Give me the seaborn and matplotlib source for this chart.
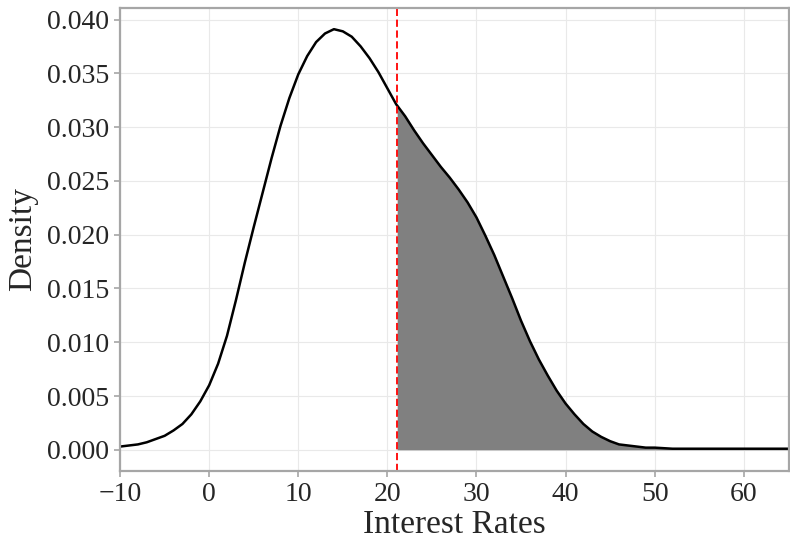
import numpy as np
import pandas as pd
import matplotlib
matplotlib.use("Agg")
import matplotlib.pyplot as plt
import seaborn as sns

# Estimated density of interest rates
rate = [-10, -9, -8, -7, -6, -5, -4, -3, -2, -1, 0, 1, 2, 3, 4, 5, 6, 7, 8,
        9, 10, 11, 12, 13, 14, 15, 16, 17, 18, 19, 20, 21, 21.1, 22, 23, 24,
        25, 26, 27, 28, 29, 30, 31, 32, 33, 34, 35, 36, 37, 38, 39, 40, 41,
        42, 43, 44, 45, 46, 47, 48, 49, 50, 52, 55, 60, 65.1]
density = [0.0003, 0.0004, 0.0005, 0.0007, 0.0010, 0.0013, 0.0018, 0.0024,
           0.0033, 0.0045, 0.0060, 0.0080, 0.0106, 0.0139, 0.0174, 0.0207,
           0.0239, 0.0271, 0.0301, 0.0327, 0.0349, 0.0366, 0.0379, 0.0387,
           0.0391, 0.0389, 0.0384, 0.0375, 0.0364, 0.0351, 0.0336, 0.0321,
           0.0320, 0.0310, 0.0297, 0.0285, 0.0274, 0.0263, 0.0253, 0.0242,
           0.0230, 0.0216, 0.0199, 0.0181, 0.0161, 0.0141, 0.0120, 0.0101,
           0.0084, 0.0069, 0.0055, 0.0043, 0.0033, 0.0024, 0.0017, 0.0012,
           0.0008, 0.0005, 0.0004, 0.0003, 0.0002, 0.0002, 0.0001, 0.0001,
           0.0001, 0.0001]
threshold = 21.1

x_ticks = [-10, 0, 10, 20, 30, 40, 50, 60]
y_ticks = [0.000, 0.005, 0.010, 0.015, 0.020, 0.025, 0.030, 0.035, 0.040]

df = pd.DataFrame({"Interest Rates": rate, "Density": density})

sns.set_style("whitegrid", {
    "grid.color": "#e9e9e9",
    "axes.edgecolor": "#a6a6a6",
    "xtick.bottom": True,
    "ytick.left": True,
})
plt.rcParams["font.family"] = ["Liberation Serif", "DejaVu Serif"]
plt.rcParams["axes.unicode_minus"] = True

fig, ax = plt.subplots(figsize=(7.9, 5.4), dpi=100)
fig.subplots_adjust(left=0.152, right=0.999, top=0.985, bottom=0.128)

sns.lineplot(data=df, x="Interest Rates", y="Density", color="black",
             linewidth=1.8, ax=ax)

tail = df[df["Interest Rates"] >= threshold]
ax.fill_between(tail["Interest Rates"], tail["Density"], 0,
                color="#808080", linewidth=0)

ax.axvline(threshold, color="red", linestyle=(0, (4, 2)), linewidth=1.3)

ax.set_xlim(-10, 65.1)
ax.set_ylim(-0.00196, 0.04106)
ax.set_xticks(x_ticks)
ax.set_yticks(y_ticks)
ax.set_yticklabels([f"{v:.3f}" for v in y_ticks])

ax.grid(True, linewidth=0.8)
for s in ax.spines.values():
    s.set_linewidth(1.6)
    s.set_color("#a6a6a6")

ax.tick_params(axis="both", labelsize=20, length=4, width=1.2,
               color="#a6a6a6", pad=4)
ax.set_xlabel("Interest Rates", fontsize=24, labelpad=2)
ax.set_ylabel("Density", fontsize=24, labelpad=6)

fig.savefig("out.png", dpi=100)
